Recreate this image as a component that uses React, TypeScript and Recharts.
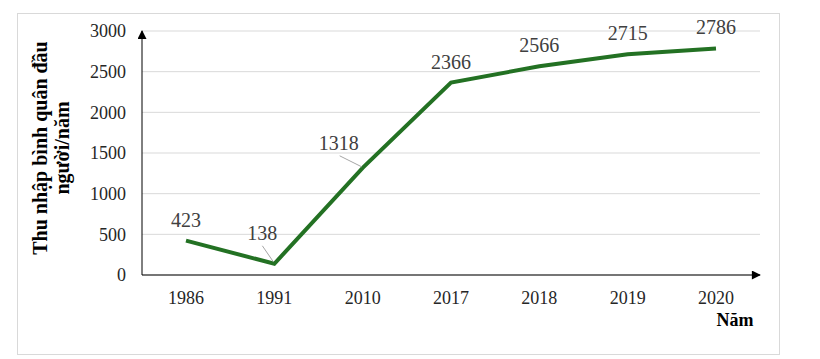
import React from 'react'
import { LineChart, Line, XAxis, YAxis, CartesianGrid, LabelList } from 'recharts'

const years = ['1986', '1991', '2010', '2017', '2018', '2019', '2020']
const income = [423, 138, 1318, 2366, 2566, 2715, 2786]
const yTicks = [0, 500, 1000, 1500, 2000, 2500, 3000]

const data = years.map((year, i) => ({ year, income: income[i] }))

const serif = 'Liberation Serif'

const PointLabel = (props: any) => {
  const { x, y, value, index } = props
  const txt = (tx: number, ty: number) => (
    <text x={tx} y={ty} textAnchor="middle" fontFamily={serif} fontSize={20} fill="#404040">
      {value}
    </text>
  )
  if (index === 1) {
    // 138 sits up-left of the point with a small leader line
    return (
      <g>
        <line x1={x - 12} y1={y - 18} x2={x - 1} y2={y - 2} stroke="#a6a6a6" strokeWidth={1} />
        {txt(x - 12, y - 24)}
      </g>
    )
  }
  if (index === 2) {
    // 1318 sits left of the rising line
    return (
      <g>
        <line x1={x - 23} y1={y - 12} x2={x - 1} y2={y - 1} stroke="#a6a6a6" strokeWidth={1} />
        {txt(x - 24, y - 18)}
      </g>
    )
  }
  return txt(x, y - 14)
}

const Titles = () => (
  <g fontFamily={serif} fontWeight="bold" fill="#000">
    <text transform="translate(47,148) rotate(-90)" textAnchor="middle" fontSize={20}>Thu nhập bình quân đầu</text>
    <text transform="translate(69,148) rotate(-90)" textAnchor="middle" fontSize={20}>người/năm</text>
    <text x={735} y={326} textAnchor="middle" fontSize={18}>Năm</text>
  </g>
)

const tickStyle = { fontFamily: serif, fontSize: 18, fill: '#262626' }

const App = () => (
  <div style={{ position: 'absolute', left: 0, top: 0, width: 820, height: 359, background: '#fff' }}>
    <div
      style={{
        position: 'absolute',
        left: 17,
        top: 13,
        width: 761,
        height: 340,
        border: '1px solid #d9d9d9',
        pointerEvents: 'none',
      }}
    />
    <LineChart width={820} height={359} data={data} margin={{ top: 31, right: 60, bottom: 54, left: 0 }}>
      <defs>
        <marker
          id="arrow"
          viewBox="0 0 10 10"
          refX={9}
          refY={5}
          markerUnits="userSpaceOnUse"
          markerWidth={11}
          markerHeight={9}
          orient="auto-start-reverse"
        >
          <path d="M0,0 L10,5 L0,10 z" fill="#000" />
        </marker>
      </defs>
      <CartesianGrid vertical={false} stroke="#d9d9d9" />
      <XAxis
        dataKey="year"
        height={30}
        padding={{ left: 44, right: 44 }}
        axisLine={{ stroke: '#000', strokeWidth: 1, markerEnd: 'url(#arrow)' }}
        tickLine={false}
        tickSize={6}
        tickMargin={10}
        tick={tickStyle}
      />
      <YAxis
        width={142}
        domain={[0, 3000]}
        ticks={yTicks}
        interval={0}
        axisLine={{ stroke: '#000', strokeWidth: 1, markerStart: 'url(#arrow)' }}
        tickLine={false}
        tickSize={6}
        tickMargin={10}
        tick={tickStyle}
      />
      <Titles />
      <Line
        type="linear"
        dataKey="income"
        stroke="#237123"
        strokeWidth={4}
        dot={false}
        activeDot={false}
        isAnimationActive={false}
      >
        <LabelList dataKey="income" content={PointLabel} />
      </Line>
    </LineChart>
  </div>
)

export default App
